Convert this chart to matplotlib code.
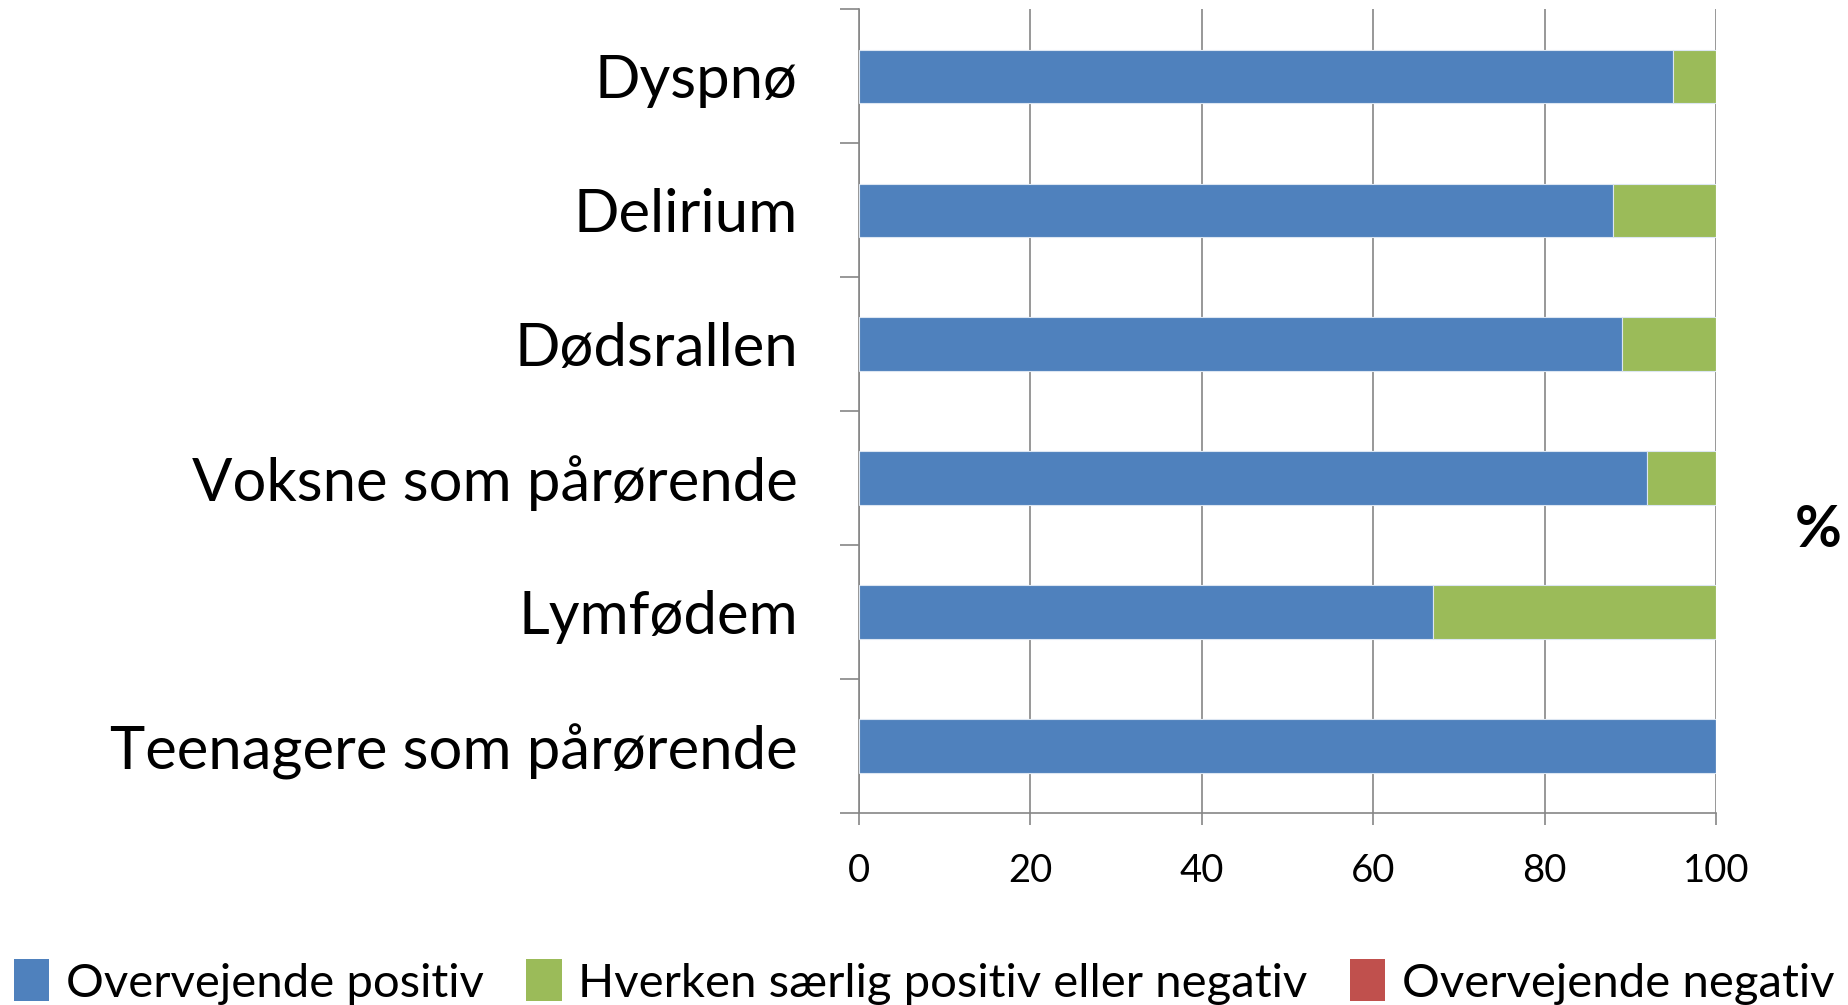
import matplotlib
matplotlib.use("Agg")
import matplotlib.pyplot as plt
import numpy as np
from matplotlib.patches import Patch

categories = ["Dyspnø", "Delirium", "Dødsrallen", "Voksne som pårørende",
              "Lymfødem", "Teenagere som pårørende"]
positive = [95, 88, 89, 92, 67, 100]
neutral = [5, 12, 11, 8, 33, 0]
negative = [0, 0, 0, 0, 0, 0]
series_names = ["Overvejende positiv", "Hverken særlig positiv eller negativ",
                "Overvejende negativ"]
x_ticks = [0, 20, 40, 60, 80, 100]
colors = ["#4F81BD", "#9BBB59", "#C0504D"]

plt.rcParams['font.family'] = ['Lato', 'DejaVu Sans']

fig = plt.figure(figsize=(18.48, 10.05), dpi=100)
ax = fig.add_axes([0.4648, 0.191, 0.9286 - 0.4648, 0.9906 - 0.191])

y = np.arange(len(categories))
left = np.zeros(len(categories))
for vals, c in zip([positive, neutral, negative], colors):
    ax.barh(y, vals, left=left, height=0.4, color=c, edgecolor="#DCE6F2",
            linewidth=0.8, zorder=3)
    left = left + np.array(vals)

ax.set_ylim(len(categories) - 0.5, -0.5)
ax.set_xlim(0, 100)
ax.set_xticks(x_ticks)
ax.set_xticklabels([str(t) for t in x_ticks], fontsize=27.5)
ax.set_yticks(y)
ax.set_yticklabels(categories, fontsize=43)
ax.set_yticks(np.arange(-0.5, len(categories), 1), minor=True)
ax.tick_params(axis='y', which='major', length=0, pad=44)
ax.tick_params(axis='y', which='minor', length=14, width=1.2, color="#868686")
ax.tick_params(axis='x', which='major', length=8.5, width=1.2, color="#868686", pad=20)
ax.grid(axis='x', color="#868686", linewidth=1.2, zorder=0)
for s in ['top', 'right']:
    ax.spines[s].set_visible(False)
for s in ['left', 'bottom']:
    ax.spines[s].set_color("#868686")
    ax.spines[s].set_linewidth(1.2)

fig.text(0.984, 0.472, "%", fontsize=41, fontweight='bold', ha='center', va='center')

handles = [Patch(facecolor=c, edgecolor='none') for c in colors]
fig.legend(handles, series_names, loc='center', bbox_to_anchor=(0.5, 0.023),
           ncol=3, frameon=False, fontsize=34, handlelength=0.75, handleheight=1.0,
           handletextpad=0.35, columnspacing=0.9)

fig.savefig("out.png", dpi=100)
